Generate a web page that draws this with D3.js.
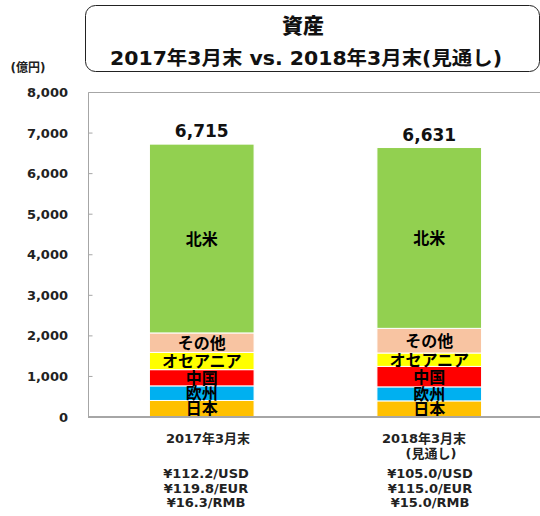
<!DOCTYPE html>
<html><head><meta charset="utf-8">
<script src="https://cdn.jsdelivr.net/npm/d3@7"></script>
<style>body{margin:0;background:#fff;} svg{display:block;font-family:Verdana,"DejaVu Sans","Noto Sans CJK JP",sans-serif;}</style>
</head><body><svg id="c" width="540" height="516"></svg>
<script>
const categories = ["2017年3月末", "2018年3月末"];
const categorySub = ["", "(見通し)"];
const regions = ["日本", "欧州", "中国", "オセアニア", "その他", "北米"];
const japan   = [395, 385];
const europe  = [360, 345];
const china   = [400, 505];
const oceania = [425, 330];
const other   = [480, 608];
const northAmerica = [4655, 4458];
const totals = [6715, 6631];
const yTicks = [0, 1000, 2000, 3000, 4000, 5000, 6000, 7000, 8000];
const rates = [["¥112.2/USD", "¥119.8/EUR", "¥16.3/RMB"], ["¥105.0/USD", "¥115.0/EUR", "¥15.0/RMB"]];
const colors = ["#ffc000", "#00b0f0", "#ff0000", "#ffff00", "#f8c4a2", "#92d050"];

const series = [japan, europe, china, oceania, other, northAmerica];
const svg = d3.select("#c");

// title box
svg.append("rect").attr("x", 85.5).attr("y", 5.5).attr("width", 454).attr("height", 66)
  .attr("rx", 10).attr("fill", "#fff").attr("stroke", "#222").attr("stroke-width", 1);
svg.append("text").attr("x", 303).attr("y", 33).attr("text-anchor", "middle")
  .attr("font-size", 21).attr("font-weight", 900).attr("fill", "#111")
  .style("font-family", '"Noto Sans CJK JP",sans-serif').text("資産");
svg.append("text").attr("x", 306).attr("y", 65).attr("text-anchor", "middle")
  .attr("font-size", 19).attr("font-weight", "bold").attr("fill", "#111")
  .attr("textLength", 392).attr("lengthAdjust", "spacingAndGlyphs")
  .text("2017年3月末 vs. 2018年3月末(見通し)");
svg.append("text").attr("x", 28).attr("y", 72).attr("text-anchor", "middle")
  .attr("font-size", 12).attr("font-weight", "bold").attr("fill", "#222").text("(億円)");

const y = d3.scaleLinear().domain([0, 8000]).range([416.5, 92]);
const x = d3.scaleBand().domain(categories).range([88, 543]).paddingInner(0.54).paddingOuter(0.27);

// frame
svg.append("path").attr("d", "M88.5,416.5V92.5H540").attr("fill", "none").attr("stroke", "#a6a6a6").attr("stroke-width", 1);

// y axis labels + ticks
const ax = svg.append("g").attr("transform", "translate(88.5,0)")
  .call(d3.axisRight(y).tickValues(yTicks).tickSize(4).tickFormat(""));
ax.select(".domain").remove();
ax.selectAll("line").attr("stroke", "#a6a6a6");
svg.append("g").selectAll("text").data(yTicks).join("text")
  .attr("x", 68).attr("y", d => y(d) + 5).attr("text-anchor", "end")
  .attr("font-size", 13).attr("font-weight", "bold").attr("fill", "#222")
  .text(d => d3.format(",")(d));

// stacks
const rows = categories.map((c, i) => {
  const o = {cat: c};
  regions.forEach((r, j) => o[r] = series[j][i]);
  return o;
});
const stack = d3.stack().keys(regions)(rows);
const g = svg.append("g");
stack.forEach((layer, j) => {
  g.selectAll(null).data(layer).join("rect")
    .attr("x", d => x(d.data.cat)).attr("width", x.bandwidth())
    .attr("y", d => y(d[1])).attr("height", d => y(d[0]) - y(d[1]))
    .attr("fill", colors[j]).attr("stroke", "#fff").attr("stroke-width", 1);
});
stack.forEach((layer, j) => {
  g.selectAll(null).data(layer).join("text")
    .attr("x", d => x(d.data.cat) + x.bandwidth() / 2)
    .attr("y", d => (y(d[0]) + y(d[1])) / 2 + 6)
    .attr("text-anchor", "middle").attr("font-size", 16).attr("font-weight", "bold")
    .attr("fill", "#000").text(regions[j]);
});
// baseline
svg.append("line").attr("x1", 88).attr("x2", 540).attr("y1", 417).attr("y2", 417)
  .attr("stroke", "#a6a6a6").attr("stroke-width", 2);

// totals
svg.selectAll(".tot").data(totals).join("text")
  .attr("x", (d, i) => x(categories[i]) + x.bandwidth() / 2)
  .attr("y", d => y(d) - 7)
  .attr("text-anchor", "middle").attr("font-size", 17).attr("font-weight", "bold").attr("fill", "#111")
  .text(d => d3.format(",")(d));

// category labels
const cx = [208, 424];
categories.forEach((c, i) => {
  svg.append("text").attr("x", cx[i]).attr("y", 443).attr("text-anchor", "middle")
    .attr("font-size", 13).attr("font-weight", "bold").attr("fill", "#222").text(c);
  if (categorySub[i]) svg.append("text").attr("x", cx[i] + 7).attr("y", 458).attr("text-anchor", "middle")
    .attr("font-size", 13).attr("font-weight", "bold").attr("fill", "#222").text(categorySub[i]);
  rates[i].forEach((r, k) => {
    svg.append("text").attr("x", i === 0 ? 206 : 430).attr("y", 478 + k * 14.5).attr("text-anchor", "middle")
      .attr("font-size", 13).attr("font-weight", "bold").attr("fill", "#222").text(r);
  });
});
</script></body></html>
